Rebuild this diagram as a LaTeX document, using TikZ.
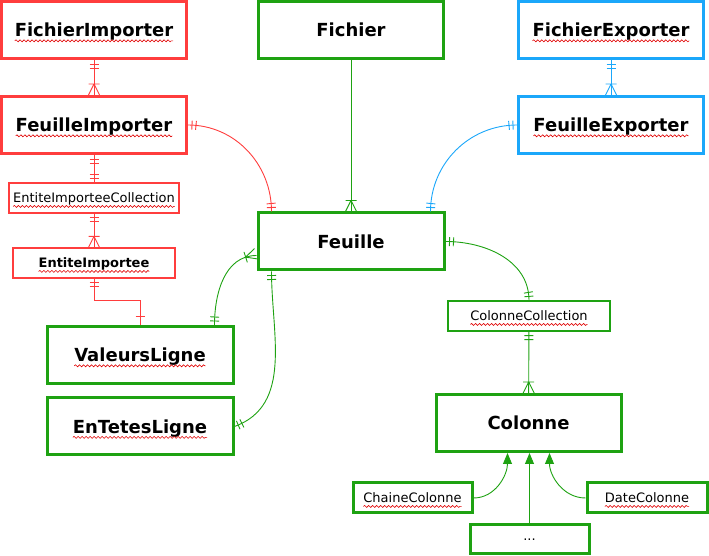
\documentclass[tikz,border=0pt]{standalone}
\usepackage{fontspec}
\setmainfont{DejaVu Sans}
\usepackage{tikz}
\usetikzlibrary{arrows.meta, decorations.markings, decorations.pathmorphing}
\definecolor{imported}{HTML}{FF3D3D}
\definecolor{exported}{HTML}{1BA7FA}
\definecolor{core}{HTML}{1EA212}
\definecolor{spell}{HTML}{E00000}
\newlength\namewd

\begin{document}
\begin{tikzpicture}[x=1pt, y=1pt,
    entity/.style={draw, line width=3pt, minimum width=185pt, minimum height=57pt, inner sep=0pt, text depth=0pt, font=\bfseries\fontsize{18}{21}\selectfont},
    part/.style={draw, line width=1.2pt, minimum height=30pt, inner sep=0pt, text depth=0pt, font=\fontsize{13}{15}\selectfont},
    subtype/.style={draw, line width=3pt, minimum width=119pt, minimum height=30pt, inner sep=0pt, text depth=0pt, font=\fontsize{13}{15}\selectfont},
    link/.style={line width=0.9pt},
    typo/.style={spell, line width=0.6pt, decorate, decoration={snake, amplitude=1pt, segment length=4pt}},
    two start/.style={postaction={decorate, decoration={markings,
        mark=at position 4pt with {\draw (0,-4.5pt) -- (0,4.5pt);},
        mark=at position 8pt with {\draw (0,-4.5pt) -- (0,4.5pt);}}}},
    two end/.style={postaction={decorate, decoration={markings,
        mark=at position -4pt with {\draw (0,-4.5pt) -- (0,4.5pt);},
        mark=at position -8pt with {\draw (0,-4.5pt) -- (0,4.5pt);}}}},
    one end/.style={postaction={decorate, decoration={markings,
        mark=at position -9pt with {\draw (0,-4.5pt) -- (0,4.5pt);}}}},
    many end/.style={postaction={decorate, decoration={markings,
        mark=at position -11pt with {\draw (0,-5.5pt) -- (0,5.5pt) (0,0) -- (11pt,5.5pt) (0,0) -- (11pt,-5.5pt);}}}},
    isa/.style={-{Triangle[length=11pt, width=9pt]}}]
    \useasboundingbox (0,0) rectangle (709,556);

    % importer side
    \node[entity, draw=imported] (fimp) at (94,526) {FichierImporter};
    \node[entity, draw=imported] (feimp) at (94,431) {FeuilleImporter};
    \node[part, draw=imported, minimum width=170pt] (coll) at (94,358) {EntiteImporteeCollection};
    \node[part, draw=imported, minimum width=162pt, font=\bfseries\fontsize{13}{15}\selectfont] (ent) at (94,293) {EntiteImportee};

    % core
    \node[entity, draw=core] (fich) at (351,526) {Fichier};
    \node[entity, draw=core, minimum width=186pt] (feuille) at (351,314.5) {Feuille};
    \node[entity, draw=core, minimum width=186pt] (vals) at (140,201) {ValeursLigne};
    \node[entity, draw=core, minimum width=186pt] (heads) at (140,129.5) {EnTetesLigne};
    \node[part, draw=core, minimum width=162pt] (colcoll) at (529,240) {ColonneCollection};
    \node[entity, draw=core] (col) at (528.5,133) {Colonne};
    \node[subtype, draw=core] (chaine) at (412.5,58) {ChaineColonne};
    \node[subtype, draw=core, minimum width=120pt] (date) at (647,58) {DateColonne};
    \node[subtype, draw=core, minimum height=29pt] (etc) at (529.5,16.5) {...};

    % exporter side
    \node[entity, draw=exported] (fexp) at (611,526) {FichierExporter};
    \node[entity, draw=exported] (feexp) at (611,431) {FeuilleExporter};

    % spell-check waves under the names
    \foreach \n/\t in {fimp/FichierImporter, feimp/FeuilleImporter, fexp/FichierExporter,
                       feexp/FeuilleExporter, vals/ValeursLigne, heads/EnTetesLigne} {
        \settowidth\namewd{\pgfinterruptpicture\bfseries\fontsize{18}{21}\selectfont \t\endpgfinterruptpicture}
        \draw[typo] ([xshift=-.5\namewd, yshift=-4pt]\n.base) -- ++(\namewd,0);
    }
    \foreach \n/\t in {coll/EntiteImporteeCollection, colcoll/ColonneCollection,
                       chaine/ChaineColonne, date/DateColonne} {
        \settowidth\namewd{\pgfinterruptpicture\fontsize{13}{15}\selectfont \t\endpgfinterruptpicture}
        \draw[typo] ([xshift=-.5\namewd, yshift=-3.5pt]\n.base) -- ++(\namewd,0);
    }
    \settowidth\namewd{\pgfinterruptpicture\bfseries\fontsize{13}{15}\selectfont EntiteImportee\endpgfinterruptpicture}
    \draw[typo] ([xshift=-.5\namewd, yshift=-3.5pt]ent.base) -- ++(\namewd,0);

    \draw[link, color=imported, two start, many end] (fimp) -- (feimp);
    \draw[link, color=imported, two start, two end] (feimp) -- (coll);
    \draw[link, color=imported, two start, many end] (coll) -- (ent);
    \draw[link, color=imported, two start, one end] (ent.south) -- ++(0,-22) -| (vals.north);
    \draw[link, color=imported, two start, two end] (feimp.east) to[out=0, in=90] ([xshift=15pt]feuille.north west);

    \draw[link, color=core, many end] (fich) -- (feuille);
    \draw[link, color=core, two start, two end] (feuille.east) to[out=0, in=90] (colcoll.north);
    \draw[link, color=core, two start, many end] (colcoll) -- (col);
    \draw[link, color=core, two start, many end] ([xshift=-20pt]vals.north east) to[out=90, in=180] ([yshift=-14pt]feuille.west);
    \draw[link, color=core, two start, two end] ([xshift=15pt]feuille.south west) to[out=-90, in=20] (heads.east);

    \draw[link, color=exported, two start, many end] (fexp) -- (feexp);
    \draw[link, color=exported, two start, two end] (feexp.west) to[out=180, in=90] ([xshift=-15pt]feuille.north east);

    % subtypes of Colonne
    \draw[link, color=core, isa] (chaine.east) to[out=0, in=-90] ([xshift=-21pt]col.south);
    \draw[link, color=core, isa] (etc.north) -- (etc.north |- col.south);
    \draw[link, color=core, isa] (date.west) to[out=180, in=-90] ([xshift=21pt]col.south);
\end{tikzpicture}
\end{document}
